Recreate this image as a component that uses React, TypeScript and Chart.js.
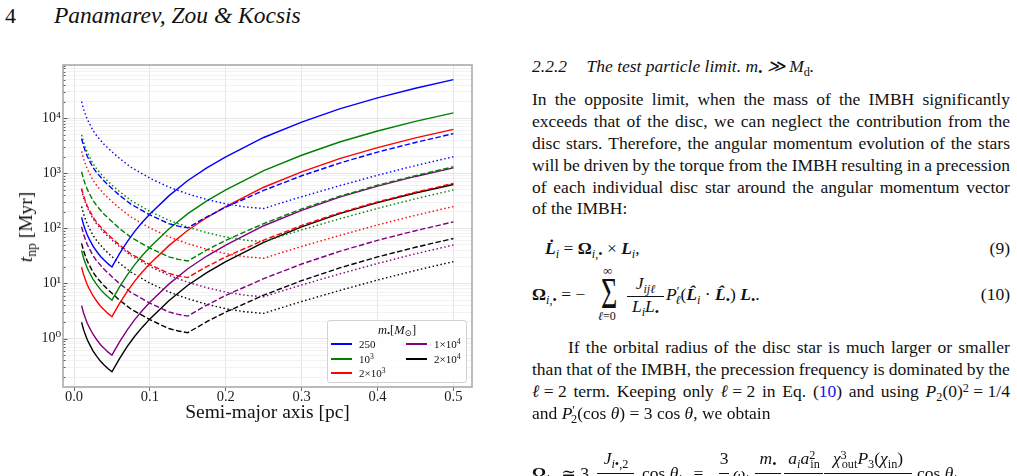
import React, { useEffect, useRef } from "react";
import { Chart, registerables } from "chart.js";

Chart.register(...registerables);

// ---------- data (log10 of t_np in Myr) ----------
const X_SOLID = [0.01, 0.0125, 0.015, 0.0175, 0.02, 0.025, 0.03, 0.035, 0.04, 0.045, 0.05, 0.06, 0.07, 0.08, 0.09, 0.1, 0.125, 0.15, 0.175, 0.2, 0.25, 0.3, 0.35, 0.4, 0.45, 0.5];
const X_DASHED = [0.01, 0.0125, 0.015, 0.0175, 0.02, 0.025, 0.03, 0.04, 0.05, 0.06, 0.075, 0.1, 0.125, 0.1375, 0.15, 0.175, 0.2, 0.25, 0.3, 0.35, 0.4, 0.45, 0.5];
const X_DOTTED = [0.01, 0.0125, 0.015, 0.0175, 0.02, 0.025, 0.03, 0.04, 0.05, 0.06, 0.075, 0.1, 0.125, 0.15, 0.175, 0.2, 0.225, 0.25, 0.275, 0.3, 0.35, 0.4, 0.45, 0.5];

const SOLID_250 = [2.2, 2.07, 1.97, 1.88, 1.81, 1.68, 1.58, 1.49, 1.42, 1.355, 1.3, 1.54, 1.755, 1.945, 2.11, 2.26, 2.59, 2.87, 3.1, 3.3, 3.65, 3.93, 4.17, 4.37, 4.545, 4.7];
const SOLID_1E3 = [1.598, 1.468, 1.368, 1.278, 1.208, 1.078, 0.978, 0.888, 0.818, 0.753, 0.698, 0.938, 1.153, 1.343, 1.508, 1.658, 1.988, 2.268, 2.498, 2.698, 3.048, 3.328, 3.568, 3.768, 3.943, 4.098];
const SOLID_2E3 = [1.297, 1.167, 1.067, 0.977, 0.907, 0.777, 0.677, 0.587, 0.517, 0.452, 0.397, 0.637, 0.852, 1.042, 1.207, 1.357, 1.687, 1.967, 2.197, 2.397, 2.747, 3.027, 3.267, 3.467, 3.642, 3.797];
const SOLID_1E4 = [0.598, 0.468, 0.368, 0.278, 0.208, 0.078, -0.022, -0.112, -0.182, -0.247, -0.302, -0.062, 0.153, 0.343, 0.508, 0.658, 0.988, 1.268, 1.498, 1.698, 2.048, 2.328, 2.568, 2.768, 2.943, 3.098];
const SOLID_2E4 = [0.297, 0.167, 0.067, -0.023, -0.093, -0.223, -0.323, -0.413, -0.483, -0.548, -0.603, -0.363, -0.148, 0.042, 0.207, 0.357, 0.687, 0.967, 1.197, 1.397, 1.747, 2.027, 2.267, 2.467, 2.642, 2.797];

const DASHED_250 = [3.63, 3.5, 3.4, 3.31, 3.24, 3.11, 3.01, 2.855, 2.725, 2.6, 2.44, 2.245, 2.085, 2.04, 2.01, 2.21, 2.385, 2.69, 2.955, 3.185, 3.385, 3.56, 3.72];
const DASHED_1E3 = [3.028, 2.898, 2.798, 2.708, 2.638, 2.508, 2.408, 2.253, 2.123, 1.998, 1.838, 1.643, 1.483, 1.438, 1.408, 1.608, 1.783, 2.088, 2.353, 2.583, 2.783, 2.958, 3.118];
const DASHED_2E3 = [2.727, 2.597, 2.497, 2.407, 2.337, 2.207, 2.107, 1.952, 1.822, 1.697, 1.537, 1.342, 1.182, 1.137, 1.107, 1.307, 1.482, 1.787, 2.052, 2.282, 2.482, 2.657, 2.817];
const DASHED_1E4 = [2.028, 1.898, 1.798, 1.708, 1.638, 1.508, 1.408, 1.253, 1.123, 0.998, 0.838, 0.643, 0.483, 0.438, 0.408, 0.608, 0.783, 1.088, 1.353, 1.583, 1.783, 1.958, 2.118];
const DASHED_2E4 = [1.727, 1.597, 1.497, 1.407, 1.337, 1.207, 1.107, 0.952, 0.822, 0.697, 0.537, 0.342, 0.182, 0.137, 0.107, 0.307, 0.482, 0.787, 1.052, 1.282, 1.482, 1.657, 1.817];

const DOTTED_250 = [4.3, 4.17, 4.07, 3.98, 3.91, 3.78, 3.68, 3.52, 3.39, 3.27, 3.11, 2.91, 2.75, 2.625, 2.525, 2.445, 2.39, 2.36, 2.47, 2.575, 2.775, 2.965, 3.14, 3.3];
const DOTTED_1E3 = [3.698, 3.568, 3.468, 3.378, 3.308, 3.178, 3.078, 2.918, 2.788, 2.668, 2.508, 2.308, 2.148, 2.023, 1.923, 1.843, 1.788, 1.758, 1.868, 1.973, 2.173, 2.363, 2.538, 2.698];
const DOTTED_2E3 = [3.397, 3.267, 3.167, 3.077, 3.007, 2.877, 2.777, 2.617, 2.487, 2.367, 2.207, 2.007, 1.847, 1.722, 1.622, 1.542, 1.487, 1.457, 1.567, 1.672, 1.872, 2.062, 2.237, 2.397];
const DOTTED_1E4 = [2.698, 2.568, 2.468, 2.378, 2.308, 2.178, 2.078, 1.918, 1.788, 1.668, 1.508, 1.308, 1.148, 1.023, 0.923, 0.843, 0.788, 0.758, 0.868, 0.973, 1.173, 1.363, 1.538, 1.698];
const DOTTED_2E4 = [2.397, 2.267, 2.167, 2.077, 2.007, 1.877, 1.777, 1.617, 1.487, 1.367, 1.207, 1.007, 0.847, 0.722, 0.622, 0.542, 0.487, 0.457, 0.567, 0.672, 0.872, 1.062, 1.237, 1.397];

const MASS_COLORS = ["#0000ff", "#008000", "#ff0000", "#800080", "#000000"];
const SOLID_SERIES = [SOLID_250, SOLID_1E3, SOLID_2E3, SOLID_1E4, SOLID_2E4];
const DASHED_SERIES = [DASHED_250, DASHED_1E3, DASHED_2E3, DASHED_1E4, DASHED_2E4];
const DOTTED_SERIES = [DOTTED_250, DOTTED_1E3, DOTTED_2E3, DOTTED_1E4, DOTTED_2E4];

const X_TICKS = [0, 0.1, 0.2, 0.3, 0.4, 0.5];
const X_MIN = -0.0145;
const X_MAX = 0.5245;
const Y_MIN = 0.132;
const Y_MAX = 92500;

const SERIF = '"Liberation Serif", "DejaVu Serif", serif';
const SUP: Record<string, string> = { "0": "⁰", "1": "¹", "2": "²", "3": "³", "4": "⁴", "-": "⁻" };

function isDecade(v: number) {
  const l = Math.log10(v);
  return Math.abs(l - Math.round(l)) < 1e-6;
}

function yTicks() {
  const out: number[] = [];
  for (let e = -1; e <= 4; e++) {
    for (let k = 1; k <= 9; k++) {
      const v = k * Math.pow(10, e);
      if (v >= Y_MIN && v <= Y_MAX) out.push(v);
    }
  }
  return out;
}

function pts(xs: number[], logs: number[]) {
  return xs.map((x, i) => ({ x, y: Math.pow(10, logs[i]) }));
}

const framePlugin = {
  id: "frameAndTicks",
  afterDraw(chart: any) {
    const { ctx, chartArea: a, scales } = chart;
    const y = scales.y;
    ctx.save();
    ctx.strokeStyle = "#333";
    ctx.lineWidth = 0.8;
    y.ticks.forEach((t: any) => {
      const py = Math.round(y.getPixelForValue(t.value)) + 0.5;
      const len = isDecade(t.value) ? 4.5 : 2.5;
      ctx.beginPath();
      ctx.moveTo(a.left, py);
      ctx.lineTo(a.left + len, py);
      ctx.stroke();
    });
    ctx.strokeStyle = "#ababab";
    ctx.lineWidth = 1.6;
    ctx.strokeRect(a.left, a.top, a.right - a.left, a.bottom - a.top);
    ctx.restore();
  },
};

function ChartCanvas() {
  const ref = useRef<HTMLCanvasElement | null>(null);
  useEffect(() => {
    if (!ref.current) return;
    const datasets: any[] = [];
    for (let m = 0; m < 5; m++) {
      datasets.push({ data: pts(X_SOLID, SOLID_SERIES[m]), borderColor: MASS_COLORS[m], borderWidth: 1.4, borderDash: [] });
      datasets.push({ data: pts(X_DASHED, DASHED_SERIES[m]), borderColor: MASS_COLORS[m], borderWidth: 1.4, borderDash: [5.5, 2.4] });
      datasets.push({ data: pts(X_DOTTED, DOTTED_SERIES[m]), borderColor: MASS_COLORS[m], borderWidth: 1.4, borderDash: [1.5, 2.5] });
    }
    const YT = yTicks();
    const chart = new Chart(ref.current, {
      type: "line",
      data: { datasets },
      plugins: [framePlugin],
      options: {
        animation: false,
        responsive: false,
        layout: { padding: { top: 15, right: 48, left: 0, bottom: 0 } },
        plugins: { legend: { display: false }, tooltip: { enabled: false } },
        elements: { point: { radius: 0 }, line: { tension: 0, borderCapStyle: "butt", fill: false } },
        scales: {
          x: {
            type: "linear",
            min: X_MIN,
            max: X_MAX,
            afterBuildTicks: (s: any) => {
              s.ticks = X_TICKS.map((v) => ({ value: v }));
            },
            afterFit: (s: any) => {
              s.height = 43;
            },
            ticks: {
              callback: (v: any) => Number(v).toFixed(1),
              font: { family: SERIF, size: 14.5 },
              color: "#1a1a1a",
              padding: -3,
              maxRotation: 0,
              autoSkip: false,
            },
            grid: { color: "#e0e0e0", lineWidth: 0.8, drawTicks: true, tickLength: 4, tickColor: "#444", tickWidth: 0.8 },
            border: { display: false },
          },
          y: {
            type: "logarithmic",
            min: Y_MIN,
            max: Y_MAX,
            afterBuildTicks: (s: any) => {
              s.ticks = YT.map((v) => ({ value: v }));
            },
            afterFit: (s: any) => {
              s.width = 63;
            },
            ticks: {
              autoSkip: false,
              padding: 2,
              font: { family: SERIF, size: 14 },
              color: "#1a1a1a",
              callback: (v: any) => {
                const n = Number(v);
                if (!isDecade(n)) return "";
                const e = String(Math.round(Math.log10(n)));
                return "10" + e.split("").map((c) => SUP[c] || c).join("");
              },
            },
            grid: {
              color: (c: any) => (c.tick && isDecade(c.tick.value) ? "#e0e0e0" : "#efefef"),
              lineWidth: 0.8,
              drawTicks: false,
            },
            border: { display: false },
          },
        },
      } as any,
    });
    return () => chart.destroy();
  }, []);
  return (
    <canvas
      ref={ref}
      width={520}
      height={380}
      style={{ position: "absolute", left: 0, top: 50, width: 520, height: 380 }}
    />
  );
}

// ---------- text helpers ----------
const F = 17.5;

function Sub({ children, s = 0.7 }: any) {
  return <span style={{ fontSize: s + "em", position: "relative", top: "0.28em" }}>{children}</span>;
}
function Sup({ children, s = 0.7 }: any) {
  return <span style={{ fontSize: s + "em", position: "relative", top: "-0.42em" }}>{children}</span>;
}

function At({ x, right, base, size = F, italic, bold, children, width, center, color }: any) {
  const style: any = {
    position: "absolute",
    top: base - 0.8375 * size,
    fontSize: size,
    lineHeight: size + "px",
    whiteSpace: "nowrap",
    fontFamily: SERIF,
    fontStyle: italic ? "italic" : "normal",
    fontWeight: bold ? "bold" : "normal",
    color: color || "#111",
  };
  if (right !== undefined) {
    style.right = 1017 - right;
    style.textAlign = "right";
  } else {
    style.left = x;
  }
  if (width !== undefined) style.width = width;
  if (center) style.textAlign = "center";
  return <div style={style}>{children}</div>;
}

function JLine({ base, left = 532, right = 1010, words }: any) {
  return (
    <div
      style={{
        position: "absolute",
        left,
        width: right - left,
        top: base - 0.8375 * F,
        fontSize: F,
        lineHeight: F + "px",
        whiteSpace: "nowrap",
        fontFamily: SERIF,
        color: "#111",
        display: "flex",
        justifyContent: "space-between",
        alignItems: "baseline",
      }}
    >
      {words.map((w: any, i: number) => (
        <span key={i}>{w}</span>
      ))}
    </div>
  );
}

function Bar({ x, y, w }: any) {
  return <div style={{ position: "absolute", left: x, top: y, width: w, height: 0.9, background: "#111" }} />;
}

const I = ({ children }: any) => <i>{children}</i>;
const BI = ({ children }: any) => (
  <b>
    <i>{children}</i>
  </b>
);

function split(s: string) {
  return s.split(" ");
}

function Legend() {
  const rows = [
    { x: 331, y: 344, c: MASS_COLORS[0], label: <>250</> },
    { x: 331, y: 359, c: MASS_COLORS[1], label: <>10<Sup>3</Sup></> },
    { x: 331, y: 373, c: MASS_COLORS[2], label: <>2×10<Sup>3</Sup></> },
    { x: 406, y: 344, c: MASS_COLORS[3], label: <>1×10<Sup>4</Sup></> },
    { x: 406, y: 359, c: MASS_COLORS[4], label: <>2×10<Sup>4</Sup></> },
  ];
  return (
    <>
      <div
        style={{
          position: "absolute",
          left: 327,
          top: 320,
          width: 140,
          height: 63,
          boxSizing: "border-box",
          border: "1px solid #d2d2d2",
          borderRadius: 3,
          background: "rgba(255,255,255,0.85)",
        }}
      />
      <At x={327} width={140} center base={334.5} size={12.5}>
        <I>m</I>
        <Sub>•</Sub>[<I>M</I>
        <Sub>⊙</Sub>]
      </At>
      {rows.map((r, i) => (
        <React.Fragment key={i}>
          <div style={{ position: "absolute", left: r.x, top: r.y - 1, width: 21, height: 2, background: r.c }} />
          <At x={r.x + 28} base={r.y + 3.8} size={11}>
            {r.label}
          </At>
        </React.Fragment>
      ))}
    </>
  );
}

export default function App() {
  return (
    <div
      style={{
        position: "absolute",
        left: 0,
        top: 0,
        width: 1017,
        height: 476,
        overflow: "hidden",
        background: "#fff",
        fontFamily: SERIF,
      }}
    >
      {/* running head */}
      <At x={5} base={23.3} size={22}>
        4
      </At>
      <At x={54} base={23.3} size={23.5} italic>
        Panamarev, Zou &amp; Kocsis
      </At>

      {/* figure */}
      <ChartCanvas />
      <Legend />
      <At x={63} width={409} center base={418} size={19.5}>
        Semi-major axis [pc]
      </At>
      <div
        style={{
          position: "absolute",
          left: 27,
          top: 227,
          transform: "translate(-50%, -50%) rotate(-90deg)",
          fontFamily: SERIF,
          fontSize: 19.5,
          lineHeight: "20px",
          whiteSpace: "nowrap",
          color: "#111",
        }}
      >
        <I>t</I>
        <Sub>np</Sub> [Myr]
      </div>

      {/* right column */}
      <At x={532} base={73} italic>
        2.2.2
      </At>
      <At x={586.5} base={73} italic>
        The test particle limit. m<Sub>•</Sub> ≫ M<Sub><span style={{ fontStyle: "normal" }}>d</span></Sub>.
      </At>

      <JLine base={106} words={split("In the opposite limit, when the mass of the IMBH significantly")} />
      <JLine base={127.8} words={split("exceeds that of the disc, we can neglect the contribution from the")} />
      <JLine base={149.6} words={split("disc stars. Therefore, the angular momentum evolution of the stars")} />
      <JLine base={171.4} words={split("will be driven by the torque from the IMBH resulting in a precession")} />
      <JLine base={193.2} words={split("of each individual disc star around the angular momentum vector")} />
      <At x={532} base={215}>
        of the IMBH:
      </At>

      {/* eq 9 */}
      <At x={545} base={255}>
        <BI>L{"\u0307"}</BI>
        <Sub>
          <I>i</I>
        </Sub>{" "}
        = <b>Ω</b>
        <Sub>
          <I>i</I>,•
        </Sub>{" "}
        × <BI>L</BI>
        <Sub>
          <I>i</I>
        </Sub>
        ,
      </At>
      <At right={1010} base={255}>
        (9)
      </At>

      {/* eq 10 */}
      <At x={532} base={301}>
        <b>Ω</b>
        <Sub>
          <I>i</I>,•
        </Sub>{" "}
        = −
      </At>
      <div
        style={{
          position: "absolute",
          left: 601,
          top: 280,
          fontFamily: SERIF,
          fontSize: 28,
          lineHeight: "28px",
          transform: "scaleY(1.55)",
          color: "#111",
        }}
      >
        Σ
      </div>
      <At x={603} base={275} size={13}>
        ∞
      </At>
      <At x={598} base={320} size={12}>
        <I>ℓ</I>=0
      </At>
      <At x={626} width={39} center base={290}>
        <I>J</I>
        <Sub>
          <I>ijℓ</I>
        </Sub>
      </At>
      <Bar x={627} y={295.5} w={37} />
      <At x={626} width={39} center base={313}>
        <I>L</I>
        <Sub>
          <I>i</I>
        </Sub>
        <I>L</I>
        <Sub>•</Sub>
      </At>
      <At x={666} base={301}>
        <I>P</I>
        <Sup>′</Sup>
        <span style={{ marginLeft: -4 }}>
          <Sub>
            <I>ℓ</I>
          </Sub>
        </span>
        (<BI>L̂</BI>
        <Sub>
          <I>i</I>
        </Sub>{" "}
        · <BI>L̂</BI>
        <Sub>•</Sub>) <BI>L</BI>
        <Sub>•</Sub>.
      </At>
      <At right={1010} base={301}>
        (10)
      </At>

      {/* paragraph 2 */}
      <JLine base={354} left={568} words={split("If the orbital radius of the disc star is much larger or smaller")} />
      <JLine base={376} words={split("than that of the IMBH, the precession frequency is dominated by the")} />
      <JLine
        base={398}
        words={[
          <>
            <I>ℓ</I> = 2
          </>,
          "term.",
          "Keeping",
          "only",
          <>
            <I>ℓ</I> = 2
          </>,
          "in",
          "Eq.",
          <>
            (<span style={{ color: "#1010ee" }}>10</span>)
          </>,
          "and",
          "using",
          <>
            <I>P</I>
            <Sub>2</Sub>(0)<Sup>2</Sup> = 1/4
          </>,
        ]}
      />
      <At x={532} base={420}>
        and <I>P</I>
        <Sup>′</Sup>
        <span style={{ marginLeft: -4 }}>
          <Sub>2</Sub>
        </span>
        (cos <I>θ</I>) = 3 cos <I>θ</I>, we obtain
      </At>

      {/* bottom equation (cut by page edge) */}
      <At x={532} base={480}>
        <b>Ω</b>
        <Sub>
          <I>i</I>,•
        </Sub>{" "}
        ≃ 3
      </At>
      <At x={596} width={40} center base={465}>
        <I>J</I>
        <Sub>
          <I>i</I>•,2
        </Sub>
      </At>
      <Bar x={597} y={472.5} w={37} />
      <At x={642} base={480}>
        cos <I>θ</I>
        <Sub>
          <I>i</I>,•
        </Sub>{" "}
        =
      </At>
      <At x={718} width={12} center base={465}>
        3
      </At>
      <Bar x={719} y={472.5} w={10} />
      <At x={733} base={480}>
        <I>ω</I>
        <Sub>
          <I>i</I>
        </Sub>
      </At>
      <At x={755} width={26} center base={465}>
        <I>m</I>
        <Sub>•</Sub>
      </At>
      <Bar x={755} y={472.5} w={26} />
      <At x={784} width={40} center base={465}>
        <I>a</I>
        <Sub>
          <I>i</I>
        </Sub>
        <I>a</I>
        <Sup>2</Sup>
        <span style={{ marginLeft: -5 }}>
          <Sub>in</Sub>
        </span>
      </At>
      <Bar x={784} y={472.5} w={39} />
      <At x={824} width={88} center base={465}>
        <I>χ</I>
        <Sup>3</Sup>
        <span style={{ marginLeft: -5 }}>
          <Sub>out</Sub>
        </span>
        <I>P</I>
        <Sub>3</Sub>(<I>χ</I>
        <Sub>in</Sub>)
      </At>
      <Bar x={824} y={472.5} w={88} />
      <At x={917} base={480}>
        cos <I>θ</I>
        <Sub>
          <I>i</I>,•
        </Sub>
        .
      </At>
    </div>
  );
}
